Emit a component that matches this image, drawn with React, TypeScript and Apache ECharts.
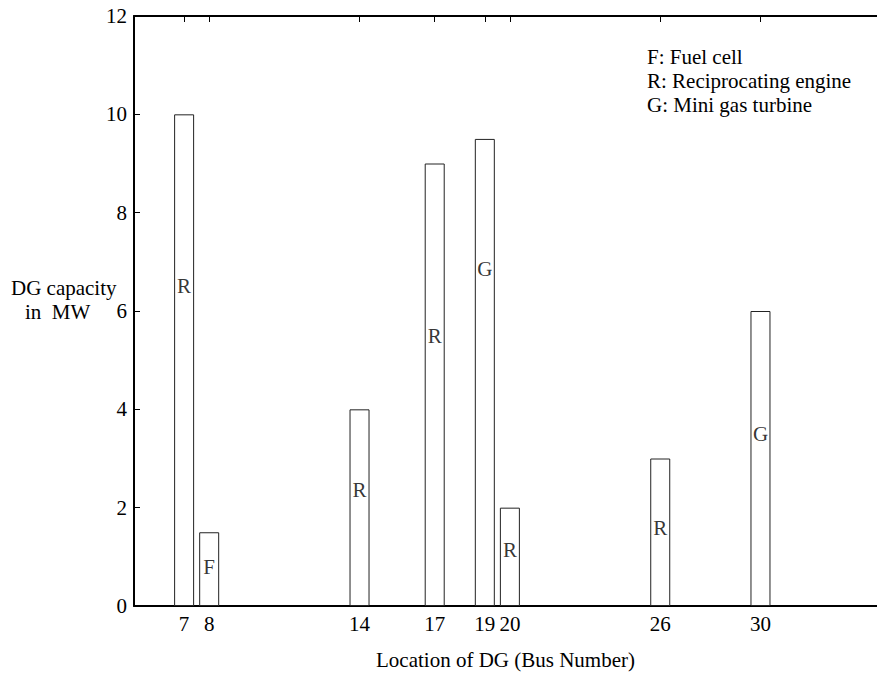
import React, { useEffect, useRef } from "react";
import * as echarts from "echarts";

const buses = [7, 8, 14, 17, 19, 20, 26, 30];
const capacities = [10, 1.5, 4, 9, 9.5, 2, 3, 6];
const dgTypes = ["R", "F", "R", "R", "G", "R", "R", "G"];
const typeLabelHeights = [6.5, 0.8, 2.35, 5.5, 6.85, 1.13, 1.58, 3.49];
const yTicks = [0, 2, 4, 6, 8, 10, 12];
const legendLines = ["F: Fuel cell", "R: Reciprocating engine", "G: Mini gas turbine"];

const FONT = "Liberation Serif";
const FS = 21;

export default function App() {
  const ref = useRef<HTMLDivElement>(null);
  useEffect(() => {
    if (!ref.current) return;
    const chart = echarts.init(ref.current, null, { renderer: "svg" });
    const axisLine = { show: true, lineStyle: { color: "#000", width: 2 } };
    const txt = { fontSize: FS, fontFamily: FONT, color: "#000" };
    const option: any = {
      animation: false,
      backgroundColor: "#fff",
      textStyle: { fontFamily: FONT, fontSize: FS },
      grid: { left: 134, right: 0, top: 16, bottom: 67.5, containLabel: false },
      xAxis: [
        {
          type: "value",
          position: "bottom",
          min: 5,
          max: 34.65,
          axisLine,
          axisTick: { show: false },
          splitLine: { show: false },
          axisLabel: { customValues: buses, ...txt, margin: 7 },
          name: "Location of DG (Bus Number)",
          nameLocation: "middle",
          nameGap: 43,
          nameTextStyle: { ...txt },
        },
        {
          type: "value",
          position: "top",
          min: 5,
          max: 34.65,
          axisLine,
          axisTick: { show: true, inside: true, length: 6, customValues: buses, lineStyle: { color: "#000", width: 1 } },
          axisLabel: { show: false },
          splitLine: { show: false },
        },
      ],
      yAxis: {
        type: "value",
        min: 0,
        max: 12,
        interval: 2,
        axisLine,
        axisTick: { show: true, inside: true, length: 6, lineStyle: { color: "#000", width: 1 } },
        splitLine: { show: false },
        axisLabel: { customValues: yTicks, ...txt, margin: 7 },
      },
      series: [
        {
          type: "bar",
          xAxisIndex: 0,
          data: buses.map((b, i) => [b, capacities[i]]),
          barWidth: 20,
          itemStyle: { color: "#fff", borderColor: "#222", borderWidth: 1 },
          silent: true,
        },
        {
          type: "scatter",
          xAxisIndex: 0,
          data: buses.map((b, i) => [b, typeLabelHeights[i], dgTypes[i]]),
          symbolSize: 1,
          itemStyle: { color: "rgba(0,0,0,0)" },
          label: {
            show: true,
            position: "inside",
            formatter: (p: any) => p.data[2],
            ...txt,
          },
          z: 5,
        },
      ],
      graphic: [
        {
          type: "text",
          left: 11,
          top: 277,
          style: { text: "DG capacity", fontSize: FS, fontFamily: FONT, fill: "#000" },
        },
        {
          type: "text",
          left: 25,
          top: 301,
          style: { text: "in  MW", fontSize: FS, fontFamily: FONT, fill: "#000" },
        },
        ...legendLines.map((t, i) => ({
          type: "text",
          left: 647,
          top: 46.5 + i * 24.2,
          style: { text: t, fontSize: FS, fontFamily: FONT, fill: "#000" },
        })),
      ],
    };
    chart.setOption(option);
    return () => chart.dispose();
  }, []);
  return (
    <div
      ref={ref}
      style={{ position: "fixed", left: 0, top: 0, width: 877, height: 675, background: "#fff" }}
    />
  );
}
